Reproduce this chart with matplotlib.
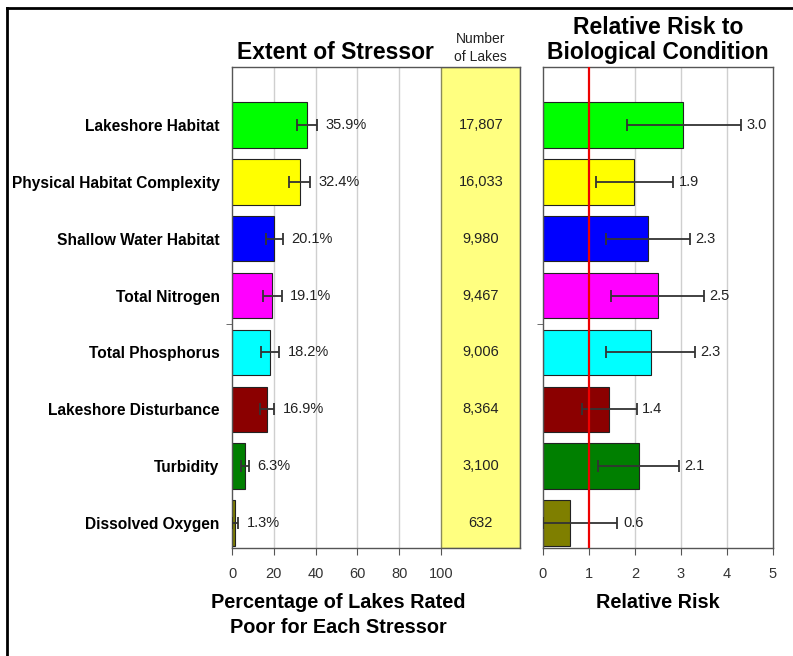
import matplotlib
matplotlib.use('Agg')
import matplotlib.pyplot as plt
from matplotlib.lines import Line2D
import numpy as np

plt.rcParams['font.family'] = ['Liberation Sans', 'DejaVu Sans']

stressors = ['Lakeshore Habitat', 'Physical Habitat Complexity', 'Shallow Water Habitat',
             'Total Nitrogen', 'Total Phosphorus', 'Lakeshore Disturbance',
             'Turbidity', 'Dissolved Oxygen']
colors = ['#00ff00', '#ffff00', '#0000ff', '#ff00ff', '#00ffff', '#8b0000', '#007f00', '#7f7f00']

pct = [35.9, 32.4, 20.1, 19.1, 18.2, 16.9, 6.3, 1.3]
pct_lo = [31.0, 27.4, 16.1, 14.7, 13.7, 13.4, 4.2, 0.1]
pct_hi = [40.7, 37.3, 24.2, 23.8, 22.6, 20.2, 8.3, 3.0]

lakes = ['17,807', '16,033', '9,980', '9,467', '9,006', '8,364', '3,100', '632']

rr = [3.05, 1.97, 2.28, 2.5, 2.34, 1.43, 2.08, 0.59]
rr_lo = [1.82, 1.15, 1.37, 1.49, 1.37, 0.84, 1.2, 0.0]
rr_hi = [4.3, 2.83, 3.2, 3.5, 3.3, 2.04, 2.96, 1.62]
rr_text = ['3.0', '1.9', '2.3', '2.5', '2.3', '1.4', '2.1', '0.6']

y = np.arange(len(stressors))
spine_c = '#555555'
grid_c = '#cfcfcf'
err_c = '#333333'

fig = plt.figure(figsize=(7.93, 6.56), dpi=100)
ax1 = fig.add_axes([0.2926, 0.1646, 0.3632, 0.7333])
ax2 = fig.add_axes([0.6847, 0.1646, 0.2900, 0.7333])

# left panel: extent of stressor
ax1.set_xlim(0, 137.8)
ax1.set_ylim(7.44, -1.02)
for gx in [20, 40, 60, 80]:
    ax1.axvline(gx, color=grid_c, lw=1, zorder=0)
ax1.axvspan(100, 137.8, facecolor='#ffff80', edgecolor='#8a8a5a', lw=1, zorder=0.5)
ax1.barh(y, pct, height=0.8, color=colors, edgecolor='#222222', lw=0.8, zorder=2)
ax1.errorbar(pct, y, xerr=[np.array(pct) - np.array(pct_lo), np.array(pct_hi) - np.array(pct)],
             fmt='none', ecolor=err_c, elinewidth=1.3, capsize=4, capthick=1.3, zorder=3)
for i in range(len(y)):
    ax1.annotate(f'{pct[i]}%', (pct_hi[i], y[i]), xytext=(6, 0), textcoords='offset points',
                 va='center', ha='left', fontsize=10.5, color='#222222')
    ax1.text(119, y[i], lakes[i], ha='center', va='center', fontsize=10.5, color='#222222')

ax1.set_xticks([0, 20, 40, 60, 80, 100])
ax1.set_yticks(y)
ax1.set_yticklabels(stressors, fontsize=11.2, fontweight='bold')
ax1.tick_params(axis='y', length=0, pad=9)
ax1.set_yticks([3.5], minor=True)
ax1.tick_params(axis='y', which='minor', length=4, color=spine_c)
ax1.tick_params(axis='x', labelsize=10.5, colors='#333333', length=5, color=spine_c, pad=9)
ax1.set_xlabel('Percentage of Lakes Rated\nPoor for Each Stressor', fontsize=14.3,
               fontweight='bold', labelpad=8, x=100 / 137.8 / 2 + 0.005, linespacing=1.45)
ax1.set_title('Extent of Stressor', fontsize=16.5, fontweight='bold', x=0.36, pad=6)
ax1.text(119, -1.08, 'Number\nof Lakes', ha='center', va='bottom', fontsize=10,
         color='#222222', family=['Liberation Sans Narrow', 'Liberation Sans'],
         linespacing=1.35, stretch='condensed')

# right panel: relative risk
ax2.set_xlim(0, 5)
ax2.set_ylim(7.44, -1.02)
for gx in [2, 3, 4]:
    ax2.axvline(gx, color=grid_c, lw=1, zorder=0)
ax2.barh(y, rr, height=0.8, color=colors, edgecolor='#222222', lw=0.8, zorder=2)
ax2.errorbar(rr, y, xerr=[np.array(rr) - np.array(rr_lo), np.array(rr_hi) - np.array(rr)],
             fmt='none', ecolor=err_c, elinewidth=1.3, capsize=4, capthick=1.3, zorder=3)
ax2.axvline(1, color='#ee0000', lw=1.6, zorder=4)
for i in range(len(y)):
    ax2.annotate(rr_text[i], (rr_hi[i], y[i]), xytext=(4, 0), textcoords='offset points',
                 va='center', ha='left', fontsize=10.5, color='#222222')
ax2.set_xticks([0, 1, 2, 3, 4, 5])
ax2.set_yticks([])
ax2.set_yticks([3.5], minor=True)
ax2.tick_params(axis='y', which='minor', length=4, color=spine_c, labelleft=False)
ax2.tick_params(axis='x', labelsize=10.5, colors='#333333', length=5, color=spine_c, pad=9)
ax2.set_xlabel('Relative Risk', fontsize=14.3, fontweight='bold', labelpad=8)
ax2.set_title('Relative Risk to\nBiological Condition', fontsize=16.5, fontweight='bold',
              pad=6, linespacing=1.1)

for ax in (ax1, ax2):
    for s in ax.spines.values():
        s.set_color(spine_c)
        s.set_linewidth(1)

# outer frame
fig.add_artist(Line2D([7 / 793, 7 / 793], [0, 1 - 8 / 656], color='black', lw=2))
fig.add_artist(Line2D([7 / 793, 1], [1 - 8 / 656, 1 - 8 / 656], color='black', lw=2))

fig.savefig('out.png', dpi=100)
